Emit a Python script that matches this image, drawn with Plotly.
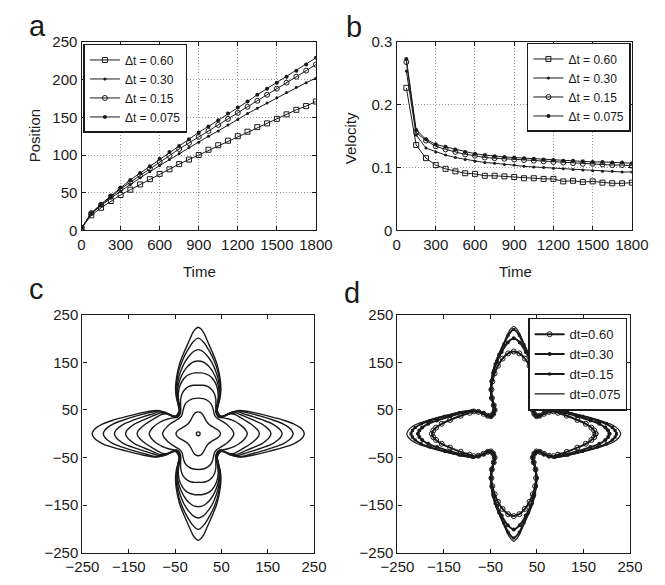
import plotly.graph_objects as go

# ---------------- data ----------------
TIME = [0, 75, 150, 225, 300, 375, 450, 525, 600, 675, 750, 825, 900,
        975, 1050, 1125, 1200, 1275, 1350, 1425, 1500, 1575, 1650, 1725, 1800]
SERIES = ["\u0394t = 0.60", "\u0394t = 0.30", "\u0394t = 0.15", "\u0394t = 0.075"]

POS_060 = [3, 20, 30, 39, 47, 54, 61, 68, 75, 81, 88, 94, 100, 107, 113, 119, 125, 131, 137, 142, 148, 154, 160, 165, 171]
POS_030 = [3, 22, 33, 43, 52, 61, 70, 78, 86, 94, 102, 110, 117, 125, 132, 140, 147, 155, 162, 169, 176, 183, 190, 196, 202]
POS_015 = [3, 23, 34, 45, 55, 64, 73, 82, 91, 99, 108, 116, 124, 132, 140, 148, 156, 164, 172, 180, 188, 196, 204, 212, 220]
POS_0075 = [3, 23, 35, 46, 57, 67, 76, 85, 95, 104, 112, 121, 130, 138, 146, 155, 163, 171, 180, 188, 196, 204, 212, 220, 229]

VTIME = TIME[1:]
VEL_060 = [0.227, 0.136, 0.115, 0.104, 0.098, 0.094, 0.091, 0.090, 0.087, 0.087, 0.086, 0.085,
           0.083, 0.083, 0.082, 0.082, 0.078, 0.079, 0.077, 0.078, 0.076, 0.075, 0.075, 0.076]
VEL_030 = [0.254, 0.152, 0.131, 0.125, 0.120, 0.116, 0.113, 0.110, 0.108, 0.107, 0.105, 0.104,
           0.102, 0.101, 0.100, 0.099, 0.098, 0.097, 0.096, 0.095, 0.094, 0.094, 0.093, 0.093]
VEL_015 = [0.268, 0.156, 0.143, 0.134, 0.129, 0.125, 0.121, 0.119, 0.116, 0.115, 0.114, 0.113,
           0.112, 0.111, 0.110, 0.109, 0.108, 0.107, 0.106, 0.106, 0.105, 0.104, 0.104, 0.103]
VEL_0075 = [0.273, 0.160, 0.145, 0.137, 0.133, 0.129, 0.125, 0.122, 0.120, 0.118, 0.117, 0.116,
            0.115, 0.114, 0.113, 0.112, 0.111, 0.111, 0.110, 0.109, 0.109, 0.108, 0.108, 0.107]

# panel c: first-quadrant outline of each contour (times 0..1800 step 225)
C_X = [
    [4, 3, 0],
    [48, 46, 41, 34, 27, 22, 18, 14, 10, 5, 0],
    [77, 74, 68, 60, 52, 45, 39, 35, 33, 31, 27, 20, 11, 0],
    [106, 103, 97, 88, 77, 66, 57, 50, 44, 40, 38, 38, 38, 35, 29, 21, 11, 0],
    [132, 129, 123, 113, 100, 88, 78, 69, 60, 52, 46, 41, 38, 39, 42, 43, 40, 34, 26, 16, 7, 0],
    [157, 154, 148, 137, 121, 104, 92, 82, 72, 62, 54, 47, 42, 39, 41, 44, 45, 42, 36, 27, 17, 8, 0],
    [181, 178, 172, 160, 142, 118, 98, 86, 75, 64, 55, 48, 43, 40, 42, 45, 46, 44, 39, 31, 21, 10, 0],
    [205, 202, 196, 183, 164, 135, 108, 89, 77, 65, 56, 49, 44, 41, 43, 46, 48, 46, 42, 35, 25, 12, 0],
    [229, 226, 220, 206, 186, 152, 118, 90, 78, 66, 56, 49, 44, 41, 43, 47, 49, 48, 45, 40, 32, 22, 12, 6, 0],
]
C_Y = [
    [0, 3, 4],
    [0, 5, 9, 13, 17, 21, 26, 33, 40, 45, 46],
    [0, 7, 14, 21, 26, 30, 34, 40, 48, 56, 64, 70, 74, 75],
    [0, 7, 14, 21, 27, 31, 33, 34, 37, 43, 50, 60, 72, 84, 93, 99, 102, 102],
    [0, 7, 13, 21, 29, 36, 41, 42, 39, 35, 34, 38, 46, 56, 68, 84, 100, 112, 121, 126, 128, 128],
    [0, 7, 13, 21, 28, 35, 40, 44, 43, 40, 36, 35, 40, 48, 58, 72, 90, 106, 122, 137, 147, 152, 153],
    [0, 7, 13, 21, 28, 36, 42, 46, 45, 41, 37, 36, 41, 49, 59, 74, 92, 110, 128, 147, 162, 173, 177],
    [0, 7, 13, 21, 28, 37, 44, 48, 46, 42, 38, 37, 42, 50, 60, 75, 93, 112, 132, 152, 172, 192, 201],
    [0, 7, 13, 21, 28, 37, 45, 49, 47, 43, 38, 37, 42, 50, 60, 75, 93, 110, 128, 148, 168, 190, 212, 220, 224],
]

# panel d: first-quadrant outline at t = 1800 for each time step
D_NAMES = ["dt=0.60", "dt=0.30", "dt=0.15", "dt=0.075"]
D_X = [
    [176, 173, 167, 155, 137, 114, 95, 86, 76, 65, 56, 49, 44, 41, 43, 47, 48, 46, 41, 34, 24, 12, 0],
    [206, 203, 197, 184, 165, 136, 110, 89, 77, 65, 56, 49, 44, 41, 43, 47, 49, 47, 43, 36, 26, 13, 0],
    [221, 218, 212, 199, 180, 148, 116, 89, 77, 65, 56, 49, 44, 41, 43, 47, 49, 48, 45, 40, 32, 22, 12, 0],
    [230, 227, 221, 207, 186, 152, 118, 90, 78, 66, 56, 49, 44, 41, 43, 47, 49, 48, 45, 40, 32, 22, 12, 6, 0],
]
D_Y = [
    [0, 7, 13, 21, 29, 38, 44, 47, 46, 42, 38, 37, 42, 50, 60, 75, 93, 110, 127, 143, 158, 169, 173],
    [0, 7, 13, 21, 28, 37, 44, 48, 47, 43, 38, 37, 42, 50, 60, 75, 93, 112, 132, 152, 172, 192, 201],
    [0, 7, 13, 21, 28, 37, 45, 49, 47, 43, 38, 37, 42, 50, 60, 75, 93, 110, 128, 146, 166, 187, 207, 219],
    [0, 7, 13, 21, 28, 37, 45, 49, 47, 43, 38, 37, 42, 50, 60, 75, 93, 110, 128, 148, 168, 190, 212, 221, 226],
]


def closed(qx, qy):
    """mirror a first-quadrant outline into the full closed curve"""
    n = len(qx)
    xs = list(qx) + [-qx[i] for i in range(n - 2, -1, -1)] + [-qx[i] for i in range(1, n)] + [qx[i] for i in range(n - 2, -1, -1)]
    ys = list(qy) + [qy[i] for i in range(n - 2, -1, -1)] + [-qy[i] for i in range(1, n)] + [-qy[i] for i in range(n - 2, -1, -1)]
    return xs, ys


W, H = 665, 585
INK = "#1a1a1a"
FONT = "Liberation Sans, Arial, Helvetica, sans-serif"

fig = go.Figure()

AB_MARKERS = [
    dict(symbol="square-open", size=5, color=INK, line=dict(width=1, color=INK)),
    dict(symbol="circle", size=3, color=INK),
    dict(symbol="circle-open", size=5, color=INK, line=dict(width=1, color=INK)),
    dict(symbol="circle", size=4, color=INK),
]
POS = [POS_060, POS_030, POS_015, POS_0075]
VEL = [VEL_060, VEL_030, VEL_015, VEL_0075]

for name, p, m in zip(SERIES, POS, AB_MARKERS):
    fig.add_trace(go.Scatter(x=TIME, y=p, name=name, mode="lines+markers",
                             line=dict(color=INK, width=1), marker=m,
                             xaxis="x", yaxis="y", legend="legend"))
for name, v, m in zip(SERIES, VEL, AB_MARKERS):
    fig.add_trace(go.Scatter(x=VTIME, y=v, name=name, mode="lines+markers",
                             line=dict(color=INK, width=1), marker=m,
                             xaxis="x2", yaxis="y2", legend="legend2"))

for qx, qy in zip(C_X, C_Y):
    xs, ys = closed(qx, qy)
    fig.add_trace(go.Scatter(x=xs, y=ys, mode="lines", showlegend=False,
                             line=dict(color=INK, width=1.4, shape="spline", smoothing=0.6),
                             xaxis="x3", yaxis="y3"))

D_MARKERS = [
    dict(symbol="circle-open", size=5, color=INK, line=dict(width=1, color=INK)),
    dict(symbol="circle", size=4, color=INK),
    dict(symbol="square", size=3, color=INK),
    None,
]
for name, qx, qy, m in zip(D_NAMES, D_X, D_Y, D_MARKERS):
    xs, ys = closed(qx, qy)
    if m is None:
        tr = go.Scatter(x=xs, y=ys, name=name, mode="lines",
                        line=dict(color=INK, width=1.2, shape="spline", smoothing=0.6))
    else:
        tr = go.Scatter(x=xs, y=ys, name=name, mode="lines+markers", marker=m,
                        line=dict(color=INK, width=2, shape="spline", smoothing=0.6))
    tr.update(xaxis="x4", yaxis="y4", legend="legend3")
    fig.add_trace(tr)


def px_x(v):
    return v / W


def px_y(v):
    return 1 - v / H


def axis(domain, anchor, rng, tickvals, grid):
    return dict(domain=domain, anchor=anchor, range=rng, tickvals=tickvals,
                showgrid=grid, gridcolor="#9a9a9a", griddash="1px,2px", gridwidth=1,
                showline=True, linecolor=INK, linewidth=1.3, mirror="ticks",
                ticks="inside", ticklen=4, tickcolor=INK, tickwidth=1,
                tickfont=dict(size=15, color=INK, family=FONT), zeroline=False)


XA = [px_x(68), px_x(315)]
XB = [px_x(400), px_x(648)]
XC = [px_x(69), px_x(313)]
XD = [px_x(401), px_x(646)]
YT = [px_y(228), px_y(34)]
YB = [px_y(560), px_y(315)]

TICKS_T = [0, 300, 600, 900, 1200, 1500, 1800]
TICKS_P = [0, 50, 100, 150, 200, 250]
TICKS_V = [0, 0.1, 0.2, 0.3]
TICKS_S = [-250, -150, -50, 50, 150, 250]

legend_common = dict(bgcolor="white", bordercolor=INK, borderwidth=1.5,
                     itemwidth=30, tracegroupgap=0, yanchor="top")

fig.update_layout(
    width=W, height=H, margin=dict(l=0, r=0, t=0, b=0),
    paper_bgcolor="white", plot_bgcolor="white",
    font=dict(family=FONT, color=INK),
    xaxis=axis(XA, "y", [0, 1800], TICKS_T, True),
    yaxis=axis(YT, "x", [0, 250], TICKS_P, True),
    xaxis2=axis(XB, "y2", [0, 1800], TICKS_T, True),
    yaxis2=axis(YT, "x2", [0, 0.3], TICKS_V, True),
    xaxis3=axis(XC, "y3", [-250, 250], TICKS_S, False),
    yaxis3=axis(YB, "x3", [-250, 250], TICKS_S, False),
    xaxis4=axis(XD, "y4", [-250, 250], TICKS_S, False),
    yaxis4=axis(YB, "x4", [-250, 250], TICKS_S, False),
    legend=dict(x=px_x(70), y=px_y(36), xanchor="left",
                font=dict(size=12, family=FONT, color=INK), **legend_common),
    legend2=dict(x=px_x(647), y=px_y(35), xanchor="right",
                 font=dict(size=12, family=FONT, color=INK), **legend_common),
    legend3=dict(x=px_x(643), y=px_y(318), xanchor="right",
                 font=dict(size=13, family=FONT, color=INK), **legend_common),
)

ann = [
    dict(text="a", x=px_x(11), y=px_y(17), size=29),
    dict(text="b", x=px_x(345), y=px_y(19), size=29),
    dict(text="c", x=px_x(11), y=px_y(288), size=29),
    dict(text="d", x=px_x(343), y=px_y(292), size=29),
    dict(text="Time", x=px_x(192), y=px_y(270), size=15, center=True),
    dict(text="Time", x=px_x(525), y=px_y(270), size=15, center=True),
]
for a in ann:
    fig.add_annotation(text=a["text"], xref="paper", yref="paper", x=a["x"], y=a["y"],
                       xanchor="center" if a.get("center") else "left", yanchor="middle",
                       showarrow=False, font=dict(size=a["size"], family=FONT, color=INK))
fig.add_annotation(text="Position", xref="paper", yref="paper", x=px_x(18), y=px_y(131),
                   textangle=-90, xanchor="center", yanchor="middle", showarrow=False,
                   font=dict(size=15, family=FONT, color=INK))
fig.add_annotation(text="Velocity", xref="paper", yref="paper", x=px_x(351), y=px_y(133),
                   textangle=-90, xanchor="center", yanchor="middle", showarrow=False,
                   font=dict(size=15, family=FONT, color=INK))

fig.write_html("out.html", post_script="document.body.style.margin='0';")
